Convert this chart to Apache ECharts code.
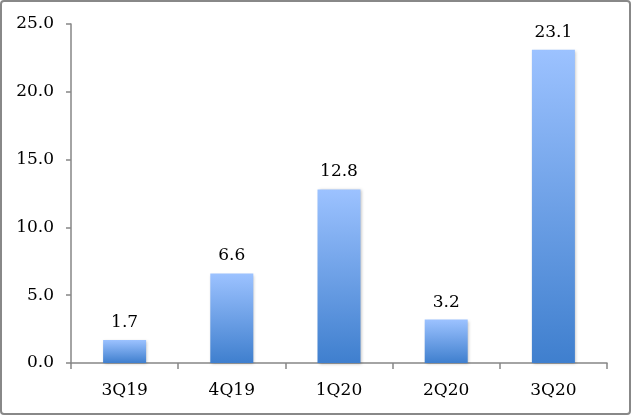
<!DOCTYPE html>
<html>
<head>
<meta charset="utf-8">
<script src="https://cdn.jsdelivr.net/npm/echarts@6/dist/echarts.min.js"></script>
<style>
html,body{margin:0;padding:0;background:#fff;}
#chart{width:631px;height:416px;}
</style>
</head>
<body>
<div id="chart"></div>
<script>
const categories = ['3Q19', '4Q19', '1Q20', '2Q20', '3Q20'];
const values = [1.7, 6.6, 12.8, 3.2, 23.1];
const yTicks = [0, 5, 25];

const chart = echarts.init(document.getElementById('chart'));
const font = 'DejaVu Serif';
chart.setOption({
  animation: false,
  graphic: [{
    type: 'rect',
    shape: {x: 1, y: 1, width: 629, height: 413, r: 3},
    style: {fill: 'none', stroke: '#888888', lineWidth: 2},
    silent: true
  }],
  grid: {left: 71, right: 24, top: 24, bottom: 53},
  xAxis: {
    type: 'category',
    data: categories,
    axisLine: {lineStyle: {color: '#868686', width: 1.5}},
    axisTick: {show: true, length: 6, lineStyle: {color: '#868686', width: 1.5}},
    axisLabel: {color: '#000', fontFamily: font, fontSize: 17, margin: 19}
  },
  yAxis: {
    type: 'value',
    min: yTicks[0],
    max: yTicks[2],
    interval: yTicks[1],
    splitLine: {show: false},
    axisLine: {show: true, lineStyle: {color: '#868686', width: 1.5}},
    axisTick: {show: true, length: 5, lineStyle: {color: '#868686', width: 1.5}},
    axisLabel: {color: '#000', fontFamily: font, fontSize: 17, margin: 17,
      formatter: v => v.toFixed(1)}
  },
  series: [{
    type: 'bar',
    data: values,
    barWidth: 43,
    itemStyle: {
      color: new echarts.graphic.LinearGradient(0, 0, 0, 1, [
        {offset: 0, color: '#9CC2FF'},
        {offset: 1, color: '#3F7FCE'}
      ]),
      shadowColor: 'rgba(0,0,0,0.25)',
      shadowBlur: 3,
      shadowOffsetX: 1,
      shadowOffsetY: 1
    },
    label: {
      show: true,
      position: 'top',
      distance: 9,
      color: '#000',
      fontFamily: font,
      fontSize: 17,
      formatter: p => p.value.toFixed(1)
    }
  }]
});
</script>
</body>
</html>
